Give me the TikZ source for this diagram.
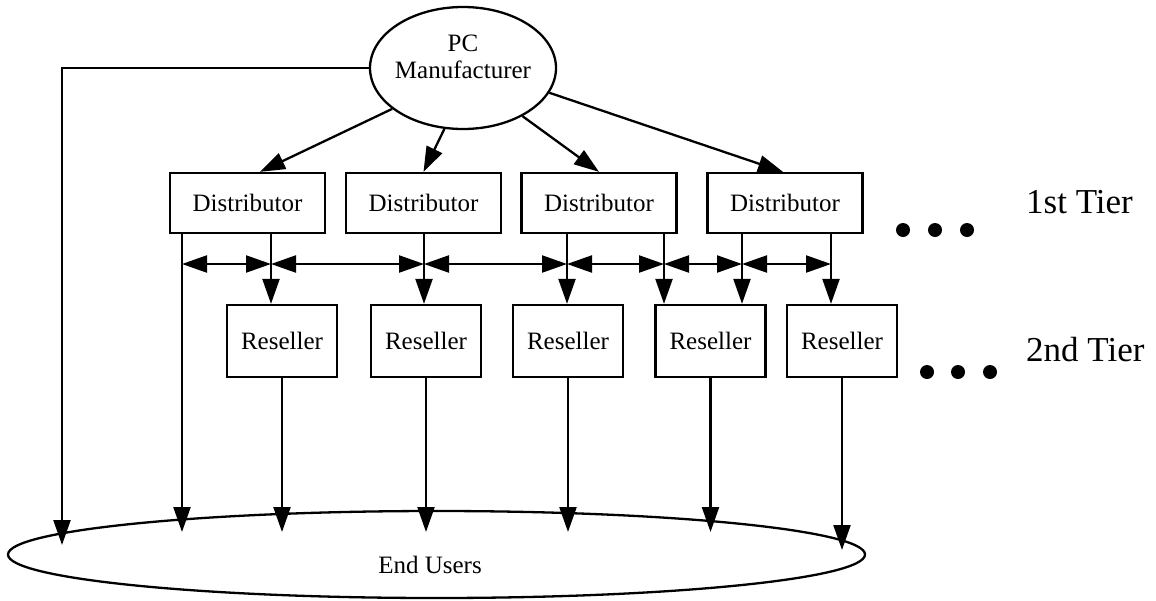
\documentclass[tikz,border=0pt]{standalone}
\usepackage{fontspec}
\setmainfont{Liberation Serif}
\usetikzlibrary{arrows.meta,shapes.geometric,calc}
\begin{document}
\begin{tikzpicture}[x=1pt,y=-1pt,line width=2.3pt,
  tipend/.style={-{Triangle[length=25pt,width=17pt]}},
  twotip/.style={{Triangle[length=25pt,width=17pt]}-{Triangle[length=25pt,width=17pt]}},
  distbox/.style={draw,rectangle,minimum width=155pt,minimum height=60pt,inner sep=0pt,font=\fontsize{25}{28}\selectfont},
  resbox/.style={draw,rectangle,minimum width=110pt,minimum height=72pt,inner sep=0pt,font=\fontsize{25}{28}\selectfont},
  lbl/.style={font=\fontsize{25}{27}\selectfont,inner sep=0pt},
  tier/.style={font=\fontsize{35}{40}\selectfont,anchor=base west,inner sep=0pt},
  dotmark/.style={circle,fill,draw=none,inner sep=0pt,minimum size=14pt}]
\useasboundingbox (0,0) rectangle (1156,600);

% manufacturer
\node[draw,ellipse,minimum width=186pt,minimum height=122pt,inner sep=0pt] (pc) at (463,68) {};
\node[lbl,align=center] (pctext) at (463,57) {PC\\Manufacturer};

% end users
\node[draw,ellipse,minimum width=857pt,minimum height=87pt,inner sep=0pt] (eu) at (436.5,554.5) {};
\node[lbl] (eutext) at (430,565) {End Users};

% distributors
\node[distbox] (d1) at (247.5,203) {Distributor};
\node[distbox] (d2) at (423.5,203) {Distributor};
\node[distbox] (d3) at (599,203) {Distributor};
\node[distbox] (d4) at (785,203) {Distributor};

% resellers
\node[resbox] (r1) at (282,341) {Reseller};
\node[resbox] (r2) at (426,341) {Reseller};
\node[resbox] (r3) at (568,341) {Reseller};
\node[resbox] (r4) at (710.5,341) {Reseller};
\node[resbox] (r5) at (842,341) {Reseller};

% bus points
\coordinate (b1) at (182,264);
\coordinate (b2) at (271,264);
\coordinate (b3) at (424,264);
\coordinate (b4) at (567,264);
\coordinate (b5) at (664,264);
\coordinate (b6) at (742,264);
\coordinate (b7) at (831,264);
\coordinate (euy) at (0,532);
\coordinate (t0) at (62,545);
\coordinate (t7) at (0,550);

% manufacturer to distributors
\draw[tipend] (pc.210) -- ($(d1.north)+(12.5,0)$);
\draw[tipend] (pc.253) -- (d2.north);
\draw[tipend] (pc.321) -- (d3.north);
\draw[tipend] (pc.344) -- ($(d4.north)+(-2,0)$);
\draw[tipend] (pc.west) -| (t0);

% distributor drops
\draw[tipend] (d1.south -| b1) -- (b1 |- euy);
\draw[tipend] (d1.south -| b2) -- (b2 |- r1.north);
\draw[tipend] (d2.south -| b3) -- (b3 |- r2.north);
\draw[tipend] (d3.south -| b4) -- (b4 |- r3.north);
\draw[tipend] (d3.south -| b5) -- (b5 |- r4.north);
\draw[tipend] (d4.south -| b6) -- (b6 |- r4.north);
\draw[tipend] (d4.south -| b7) -- (b7 |- r5.north);

% bus
\draw[twotip] (b1) -- (b2);
\draw[twotip] (b2) -- (b3);
\draw[twotip] (b3) -- (b4);
\draw[twotip] (b4) -- (b5);
\draw[twotip] (b5) -- (b6);
\draw[twotip] (b6) -- (b7);

% resellers to end users
\draw[tipend] (r1.south) -- (r1.south |- euy);
\draw[tipend] (r2.south) -- (r2.south |- euy);
\draw[tipend] (r3.south) -- (r3.south |- euy);
\draw[tipend] (r4.south) -- (r4.south |- euy);
\draw[tipend] (r5.south) -- (r5.south |- t7);

% tiers
\node[dotmark] (p11) at (903,230) {};
\node[dotmark] (p12) at (935,230) {};
\node[dotmark] (p13) at (967,230) {};
\node[tier] (tier1) at (1025,213) {1st Tier};
\node[dotmark] (p21) at (927,372) {};
\node[dotmark] (p22) at (958,372) {};
\node[dotmark] (p23) at (990,372) {};
\node[tier] (tier2) at (1025,361) {2nd Tier};
\end{tikzpicture}
\end{document}
